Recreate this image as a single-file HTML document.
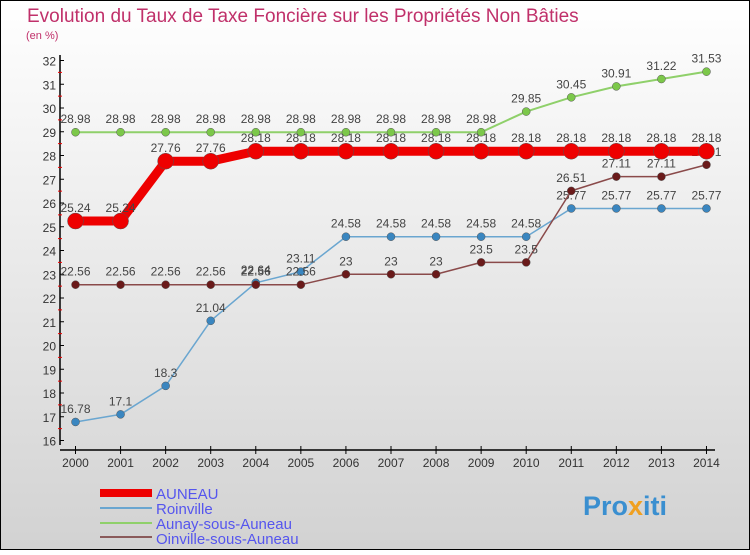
<!DOCTYPE html>
<html><head><meta charset="utf-8"><style>
body{margin:0}
#c{width:750px;height:550px;position:relative;font-family:"Liberation Sans","DejaVu Sans",sans-serif;}
</style></head><body>
<div id="c">
<svg id="s" width="750" height="550" xmlns="http://www.w3.org/2000/svg">
<defs><linearGradient id="bg" x1="0" y1="0" x2="0" y2="1"><stop offset="0" stop-color="#ffffff"/><stop offset="1" stop-color="#d2d2d2"/></linearGradient></defs>
<rect x="0.5" y="0.5" width="749" height="549" fill="url(#bg)" stroke="#000"/>
<text x="27" y="22" font-size="19" fill="#c0306a">Evolution du Taux de Taxe Foncière sur les Propriétés Non Bâties</text>
<text x="26" y="39" font-size="11" fill="#c0306a">(en %)</text>
<g id="axes"></g><g id="series"></g>
<g>
<rect x="100" y="489" width="52" height="8" fill="#e00"/>
<text x="156" y="499" font-size="15" fill="#5555ee">AUNEAU</text>
<line x1="100" y1="508" x2="152" y2="508" stroke="#6aa6d0" stroke-width="2"/>
<text x="156" y="514" font-size="15" fill="#5555ee">Roinville</text>
<line x1="100" y1="523" x2="152" y2="523" stroke="#8fd06a" stroke-width="2"/>
<text x="156" y="529" font-size="15" fill="#5555ee">Aunay-sous-Auneau</text>
<line x1="100" y1="537" x2="152" y2="537" stroke="#8a5a5a" stroke-width="2"/>
<text x="156" y="544" font-size="15" fill="#5555ee">Oinville-sous-Auneau</text>
</g>
<text x="583" y="515" font-size="27" font-weight="bold" fill="#3a8fd0">Pro<tspan fill="#f0a020">x</tspan>iti</text>
</svg></div>
<script>
const years=[2000,2001,2002,2003,2004,2005,2006,2007,2008,2009,2010,2011,2012,2013,2014];
const auneau=[25.24,25.24,27.76,27.76,28.18,28.18,28.18,28.18,28.18,28.18,28.18,28.18,28.18,28.18,28.18];
const roinville=[16.78,17.1,18.3,21.04,22.64,23.11,24.58,24.58,24.58,24.58,24.58,25.77,25.77,25.77,25.77];
const aunay=[28.98,28.98,28.98,28.98,28.98,28.98,28.98,28.98,28.98,28.98,29.85,30.45,30.91,31.22,31.53];
const oinville=[22.56,22.56,22.56,22.56,22.56,22.56,23,23,23,23.5,23.5,26.51,27.11,27.11,27.61];
const yTicks=[16,17,18,19,20,21,22,23,24,25,26,27,28,29,30,31,32];
const NS="http://www.w3.org/2000/svg";
const X=i=>75.5+i*45.07;
const Y=v=>60.5+(32-v)*23.75;
function mk(t,a,p){const e=document.createElementNS(NS,t);for(const k in a)e.setAttribute(k,a[k]);p.appendChild(e);return e;}
const ax=document.getElementById('axes');
const yl=mk('line',{x1:60,y1:55,x2:60,y2:445,stroke:'#000','stroke-width':1.5},ax);


const xl=mk('line',{x1:60,y1:450,x2:715,y2:450,stroke:'#000','stroke-width':1.5},ax);


yTicks.forEach(v=>{
  mk('line',{x1:60,y1:Y(v),x2:64,y2:Y(v),stroke:'#000'},ax);
  if(v<32) mk('line',{x1:58,y1:Y(v+0.5),x2:62,y2:Y(v+0.5),stroke:'#e00'},ax);
  const t=mk('text',{x:56,y:Y(v)+5,'font-size':12,fill:'#333','text-anchor':'end'},ax);
  t.textContent=v;
  
  
});
years.forEach((y,i)=>{
  mk('line',{x1:X(i),y1:446,x2:X(i),y2:454,stroke:'#000'},ax);
  const t=mk('text',{x:X(i),y:467,'font-size':12,fill:'#333','text-anchor':'middle'},ax);
  t.textContent=y;
  
  
});
const sg=document.getElementById('series');
function series(data,name,color,w,r,fill){
  const g=mk('g',{},sg);
  
  
  const pl=mk('polyline',{points:data.map((v,i)=>X(i)+','+Y(v)).join(' '),fill:'none',stroke:color,'stroke-width':w,'stroke-linejoin':'round'},g);
  
  
  data.forEach((v,i)=>{
    const c=mk('circle',{cx:X(i),cy:Y(v),r:r,fill:fill,stroke:'#555','stroke-width':0.5},g);
    
    
    const t=mk('text',{x:X(i),y:Y(v)-9,'font-size':12,fill:'#444','text-anchor':'middle'},g);
    t.textContent=v;
    
    
  });
}
series(aunay,'aunay','#8fd06a',2,4,'#7cc84a');
series(roinville,'roinville','#6aa6d0',1.5,4,'#3a86c0');
series(oinville,'oinville','#8a4a4a',1.5,4,'#6a1a1a');
series(auneau,'auneau','#ee0000',9,8,'#ee0000');
</script>
</body></html>
